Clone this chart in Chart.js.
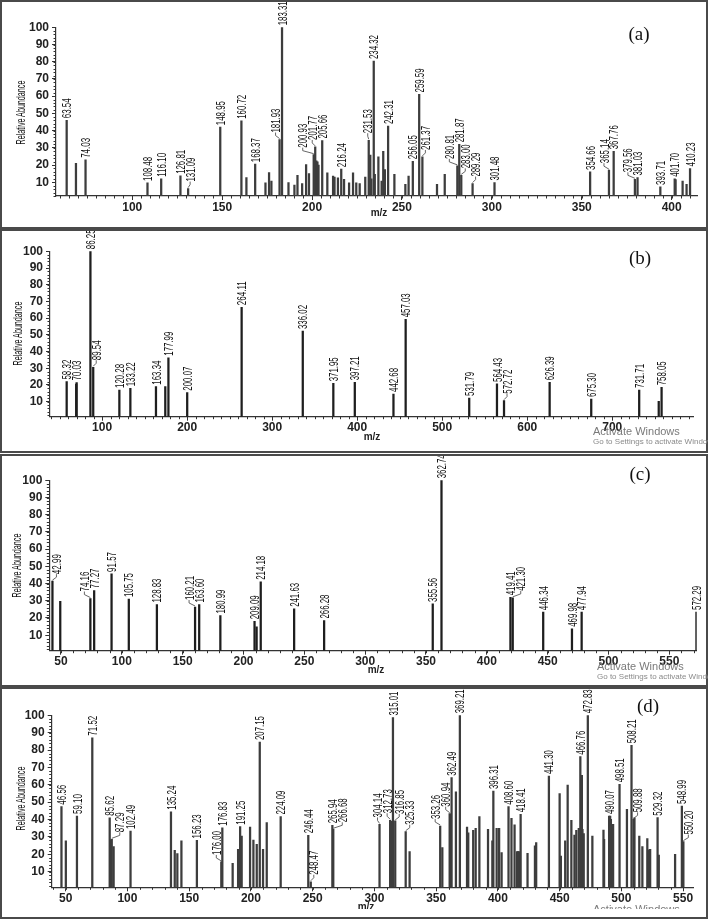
<!DOCTYPE html>
<html><head><meta charset="utf-8">
<script src="https://cdn.jsdelivr.net/npm/chart.js@4.4.1/dist/chart.umd.min.js"></script>
<style>
html,body{margin:0;padding:0;background:#fff}
body{width:708px;height:920px;position:relative;overflow:hidden;font-family:"Liberation Sans",Arial,sans-serif}
canvas{position:absolute;left:0}
.frame{position:absolute;left:0;width:708px;box-sizing:border-box;border:2px solid #4a4a4a;pointer-events:none}
.yt{position:absolute;white-space:nowrap;font:13px "Liberation Sans",Arial,sans-serif;color:#111}
.mz{position:absolute;font:bold 10px "Liberation Sans",Arial,sans-serif;color:#222;transform:translate(-50%,-50%)}
.pl{position:absolute;font:19px "Liberation Serif","Times New Roman",serif;color:#111;transform:translate(-50%,-50%)}
.aw{position:absolute;font:11px "Liberation Sans",Arial,sans-serif;color:#7a7a7a;white-space:nowrap}
.gs{position:absolute;font:8px "Liberation Sans",Arial,sans-serif;color:#8a8a8a;white-space:nowrap}
.clipD{position:absolute;left:0;top:687px;width:708px;height:222px;overflow:hidden}
</style></head>
<body>
<canvas id="ca" width="708" height="228" style="top:0px"></canvas>
<canvas id="cb" width="708" height="222" style="top:230px"></canvas>
<canvas id="cc" width="708" height="230" style="top:455px"></canvas>
<div class="clipD">
  <canvas id="cd" width="708" height="232" style="top:1px"></canvas>
  <span class="mz" style="left:366px;top:219px">m/z</span>
  <span class="aw" style="left:593px;top:216px">Activate Windows</span>
</div>

<div class="frame" style="top:0;height:229px"></div>
<div class="frame" style="top:229px;height:224px"></div>
<div class="frame" style="top:454px;height:233px"></div>
<div class="frame" style="top:687px;height:232px"></div>

<span class="yt" data-cx="21" data-cy="112">Relative Abundance</span>
<span class="yt" data-cx="18" data-cy="333">Relative Abundance</span>
<span class="yt" data-cx="17" data-cy="565">Relative Abundance</span>
<span class="yt" data-cx="21" data-cy="798">Relative Abundance</span>

<span class="mz" style="left:379px;top:212px">m/z</span>
<span class="mz" style="left:372px;top:436px">m/z</span>
<span class="mz" style="left:376px;top:669px">m/z</span>

<span class="pl" style="left:639px;top:34px">(a)</span>
<span class="pl" style="left:640px;top:258px">(b)</span>
<span class="pl" style="left:640px;top:474px">(c)</span>
<span class="pl" style="left:648px;top:706px">(d)</span>

<span class="aw" style="left:593px;top:425px">Activate Windows</span>
<span class="gs" style="left:593px;top:437px">Go to Settings to activate Windows</span>
<span class="aw" style="left:597px;top:660px">Activate Windows</span>
<span class="gs" style="left:597px;top:672px">Go to Settings to activate Windows</span>

<script>
// ---------------- DATA ----------------
// Panel (a)
const mzA  = [63.54,68.7,74.03,108.48,116.10,126.81,131.09,148.95,160.72,163.5,168.37,174.1,176.1,177.4,181.93,183.31,186.9,190.2,191.9,194.5,196.7,198.3,200.93,201.77,202.4,203.0,203.6,205.66,208.5,211.7,212.5,214.4,216.24,217.8,220.6,222.8,224.6,226.5,229.6,231.53,232.4,233.0,234.32,234.9,236.9,238.7,239.6,240.5,242.31,245.8,251.9,253.7,256.05,259.59,261.37,269.5,273.8,280.81,281.87,283.00,289.29,301.48,354.66,365.14,367.76,379.56,381.03,393.71,401.70,402.2,406.1,408.3,410.23];
const intA = [46,21,23,9.6,12,13.7,6.3,42,45.7,12.7,20.5,9.6,15.6,10.6,34.8,100,9.8,8.3,14,9.2,20.3,15,26,30.5,22.4,21.8,19.9,34.2,15.4,13.5,13,12.5,17.6,11.7,9.6,15.4,9.6,9.2,13,34.4,25.7,12,80.4,14.6,24.7,10.6,28,17.4,42.6,14.6,8.8,13.5,22.2,61,24.7,8.8,14.6,19.5,32,14,9.2,9.8,16,17,28,11.7,12.7,7.3,12,11.5,10.6,8.8,18];
const lblA = ["63.54","","74.03","108.48","116.10","126.81","131.09","148.95","160.72","","168.37","","","","181.93","183.31","","","","","","","200.93","201.77","","","","205.66","","","","","216.24","","","","","","","231.53","","","234.32","","","","","","242.31","","","","256.05","259.59","261.37","","","280.81","281.87","283.00","289.29","301.48","354.66","365.14","367.76","379.56","381.03","393.71","401.70","","","","410.23"];
const xTicksA = [100,150,200,250,300,350,400];

// Panel (b)
const mzB  = [58.32,69.5,70.03,86.25,89.54,120.28,133.22,163.34,174.3,177.99,200.07,264.11,336.02,371.95,397.21,442.68,457.03,531.79,564.43,572.72,626.39,675.30,731.71,754.7,758.05];
const intB = [22,20.5,21.4,100,30.6,17,18,19,19,36.3,15.4,66.5,52.3,21,21.6,14.6,59.3,12.2,20.6,10.6,21.6,11.6,17,10.2,18.6];
const lblB = ["58.32","","70.03","86.25","89.54","120.28","133.22","163.34","","177.99","200.07","264.11","336.02","371.95","397.21","442.68","457.03","531.79","564.43","572.72","626.39","675.30","731.71","","758.05"];
const xTicksB = [100,200,300,400,500,600,700];

// Panel (c)
const mzC  = [42.99,49.4,74.16,77.27,91.57,105.75,128.83,160.21,163.60,180.99,209.09,210.8,214.18,241.63,266.28,355.56,362.74,419.41,421.30,446.34,469.98,477.94,572.29];
const intC = [41.4,29.7,31.3,36,45.6,31,27.8,26.4,27.8,21.4,18.1,14.8,41,25.3,18.5,28.2,100,32,31.7,23.4,13.7,23.4,23.5];
const lblC = ["42.99","","74.16","77.27","91.57","105.75","128.83","160.21","163.60","180.99","209.09","","214.18","241.63","266.28","355.56","362.74","419.41","421.30","446.34","469.98","477.94","572.29"];
const xTicksC = [50,100,150,200,250,300,350,400,450,500,550];

// Panel (d)
const mzD  = [46.56,50.1,59.10,71.52,85.62,86.5,87.29,88.8,102.49,135.24,138.3,140.4,143.7,156.23,176.00,176.83,185.2,189.6,190.8,191.25,192.5,199.3,202.0,204.7,207.15,209.8,212.8,224.09,246.44,248.47,265.94,266.68,
  304.14,312.73,313.6,315.01,316.85,325.33,328.5,353.26,355.0,360.94,361.6,362.49,366.0,369.21,375.0,376.0,380.0,382.0,385.0,392.0,395.5,396.31,399.0,401.0,403.0,408.60,411.0,413.5,415.5,416.3,417.0,418.41,424.0,430.0,431.0,
  441.30,450.0,451.0,454.5,456.5,459.5,462.0,463.5,465.5,466.76,468.0,468.5,469.5,472.83,476.5,485.5,486.0,490.07,490.9,491.5,492.3,493.3,498.51,504.5,508.21,509.88,510.6,514.5,517.0,521.0,522.0,523.3,529.32,530.3,543.5,548.99,550.20];
const intD = [47.4,27.7,42,87.1,41,28.2,28.6,24.4,33.4,44.5,22.3,20.4,27.7,28,15.6,35.3,14.8,22.9,10,35.9,30.5,35.7,28.2,25.7,84.6,22.9,38.2,41.7,30.9,4.2,36.7,34.4,
  37.2,39.6,39,98.7,39.2,33,21.5,36.3,23.8,43.4,43,64.1,55.9,100,35.7,32.4,33.8,35,41.7,34.4,27.7,56.4,35,35,21,47.4,40.7,36.9,21.5,21.5,21.5,43,20.6,24.8,26.7,
  65,54.9,19,27.7,59.9,39.6,31.1,33.8,35,76.2,65.5,34.4,31.9,100,30.5,34,28.6,42,42,40.1,33.4,37.2,60.3,45.9,82.7,40.1,41,30.5,24.4,29,22.5,22.9,41.1,19.6,20,47.8,27.3];
const lblD = ["46.56","","59.10","71.52","85.62","","87.29","","102.49","135.24","","","","156.23","176.00","176.83","","","","191.25","","","","","207.15","","","224.09","246.44","248.47","265.94","266.68",
  "304.14","312.73","","315.01","316.85","325.33","","353.26","","360.94","","362.49","","369.21","","","","","","","","396.31","","","","408.60","","","","","","418.41","","","",
  "441.30","","","","","","","","","466.76","","","","472.83","","","","490.07","","","","","498.51","","508.21","509.88","","","","","","","529.32","","","548.99","550.20"];
const xTicksD = [50,100,150,200,250,300,350,400,450,500,550];

const yTicks = [10,20,30,40,50,60,70,80,90,100];

// ---------------- PLUGINS ----------------
const LABEL_FONT = '13px "Liberation Sans",Arial,sans-serif';
const peakLabels = {
  id: 'peakLabels',
  afterDatasetsDraw(chart, args, o) {
    const {ctx} = chart, x = chart.scales.x, y = chart.scales.y;
    const mz = o.mz, it = o.it, lb = o.lb;
    ctx.save();
    ctx.font = LABEL_FONT;
    const GAP = 9.5, BARGAP = 5.5, CHAR = 4.0;
    const bars = mz.map((m, i) => ({px: x.getPixelForValue(m), py: y.getPixelForValue(it[i]), i}));
    const order = lb.map((t, i) => i).filter(i => lb[i]).sort((a, b) => it[b] - it[a]);
    const placed = [];
    for (const i of order) {
      const b = bars[i];
      const w = ctx.measureText(lb[i]).width;
      const len = lb[i].length * CHAR;
      const sx = len / w;
      let best = null;
      for (let k = 0; k <= 60 && !best; k++) {
        const ds = k === 0 ? [0] : [-k, k];
        for (const d of ds) {
          const lx = b.px + d;
          if (lx < x.left + 7) continue;
          const bottom = b.py - (d === 0 ? 2 : 7);
          const topY = bottom - len;
          let ok = true;
          for (const p of placed) {
            if (Math.abs(p.lx - lx) < GAP && !(p.topY > bottom || p.bottom < topY)) { ok = false; break; }
          }
          if (ok) for (const q of bars) {
            if (q.i === i) continue;
            if (Math.abs(q.px - lx) < BARGAP && q.py < bottom) { ok = false; break; }
          }
          if (ok) { best = {lx, bottom, topY, d}; break; }
        }
      }
      if (!best) best = {lx: b.px, bottom: b.py - 2, topY: b.py - 2 - len, d: 0};
      placed.push(best);
      if (best.d !== 0) {
        ctx.strokeStyle = '#555'; ctx.lineWidth = 0.9;
        ctx.beginPath();
        ctx.moveTo(b.px, b.py - 1);
        ctx.lineTo(best.lx, b.py - 4);
        ctx.lineTo(best.lx, best.bottom);
        ctx.stroke();
      }
      ctx.save();
      ctx.translate(best.lx, best.bottom);
      ctx.rotate(-Math.PI / 2);
      ctx.scale(sx, 1);
      ctx.fillStyle = '#111';
      ctx.textAlign = 'left';
      ctx.textBaseline = 'alphabetic';
      ctx.fillText(lb[i], 0, 4.6);
      ctx.restore();
    }
    ctx.restore();
  }
};
const minorTicks = {
  id: 'minorTicks',
  afterDraw(chart, args, o) {
    const {ctx} = chart, x = chart.scales.x, y = chart.scales.y;
    ctx.save();
    ctx.strokeStyle = '#333'; ctx.lineWidth = 1;
    ctx.beginPath();
    for (let v = Math.ceil(x.min / o.xs) * o.xs; v <= x.max; v += o.xs) {
      const p = Math.round(x.getPixelForValue(v)) + 0.5;
      ctx.moveTo(p, x.top); ctx.lineTo(p, x.top + 2.5);
    }
    for (let v = Math.ceil(y.min / 2) * 2; v <= y.max; v += 2) {
      const p = Math.round(y.getPixelForValue(v)) + 0.5;
      ctx.moveTo(y.right - 2.5, p); ctx.lineTo(y.right, p);
    }
    ctx.stroke();
    ctx.restore();
  }
};

// ---------------- CHARTS ----------------
const PANELS = [
  {id: 'ca', mz: mzA, it: intA, lb: lblA, xt: xTicksA, h: 228, area: {l: 56, r: 697, t: 27.3, b: 196}, xr: [57.6, 414.1], ymin: 2, xs: 5, color: '#3d3d3d'},
  {id: 'cb', mz: mzB, it: intB, lb: lblB, xt: xTicksB, h: 222, area: {l: 50, r: 693, t: 21.3, b: 186.7}, xr: [38.7, 795], ymin: 1, xs: 10, color: '#1e1e1e'},
  {id: 'cc', mz: mzC, it: intC, lb: lblC, xt: xTicksC, h: 230, area: {l: 49.3, r: 696.7, t: 25.3, b: 195.7}, xr: [40.4, 572.5], ymin: 1, xs: 10, color: '#1e1e1e'},
  {id: 'cd', mz: mzD, it: intD, lb: lblD, xt: xTicksD, h: 232, area: {l: 51.7, r: 693, t: 27.3, b: 199.3}, xr: [38.65, 558], ymin: 1, xs: 10, color: '#3d3d3d'}
];
const tickFont = {family: '"Liberation Sans", Arial, sans-serif', size: 12, weight: 'bold'};
for (const P of PANELS) {
  new Chart(document.getElementById(P.id), {
    type: 'bar',
    data: {datasets: [{
      data: P.mz.map((m, i) => ({x: m, y: P.it[i]})),
      backgroundColor: P.color, borderWidth: 0, barThickness: 1.6, base: P.ymin
    }]},
    options: {
      responsive: false, animation: false, devicePixelRatio: 1,
      layout: {padding: {left: P.area.l - 40, right: 708 - P.area.r, top: P.area.t, bottom: P.h - P.area.b - 20}},
      plugins: {legend: {display: false}, tooltip: {enabled: false},
        peakLabels: {mz: P.mz, it: P.it, lb: P.lb}, minorTicks: {xs: P.xs}},
      scales: {
        x: {type: 'linear', min: P.xr[0], max: P.xr[1], offset: false,
          afterFit(s) { s.height = 20; },
          afterBuildTicks(s) { s.ticks = P.xt.map(v => ({value: v})); },
          grid: {drawOnChartArea: false, offset: false, tickLength: 4, color: '#333'},
          border: {color: '#333', width: 1.2},
          ticks: {font: tickFont, color: '#222', padding: 0, maxRotation: 0, autoSkip: false}},
        y: {type: 'linear', min: P.ymin, max: 100,
          afterFit(s) { s.width = 40; },
          afterBuildTicks(s) { s.ticks = yTicks.map(v => ({value: v})); },
          grid: {drawOnChartArea: false, tickLength: 4, color: '#333'},
          border: {color: '#333', width: 1.2},
          ticks: {font: tickFont, color: '#222', padding: 3}}
      }
    },
    plugins: [peakLabels, minorTicks]
  });
}

// Y axis titles (rotated, condensed to the reference length)
document.querySelectorAll('.yt').forEach(el => {
  const w = el.offsetWidth, h = el.offsetHeight;
  const s = 64 / w;
  el.style.left = (+el.dataset.cx - w / 2) + 'px';
  el.style.top = (+el.dataset.cy - h / 2) + 'px';
  el.style.transform = 'rotate(-90deg) scaleX(' + s.toFixed(3) + ')';
});
</script>
</body></html>
